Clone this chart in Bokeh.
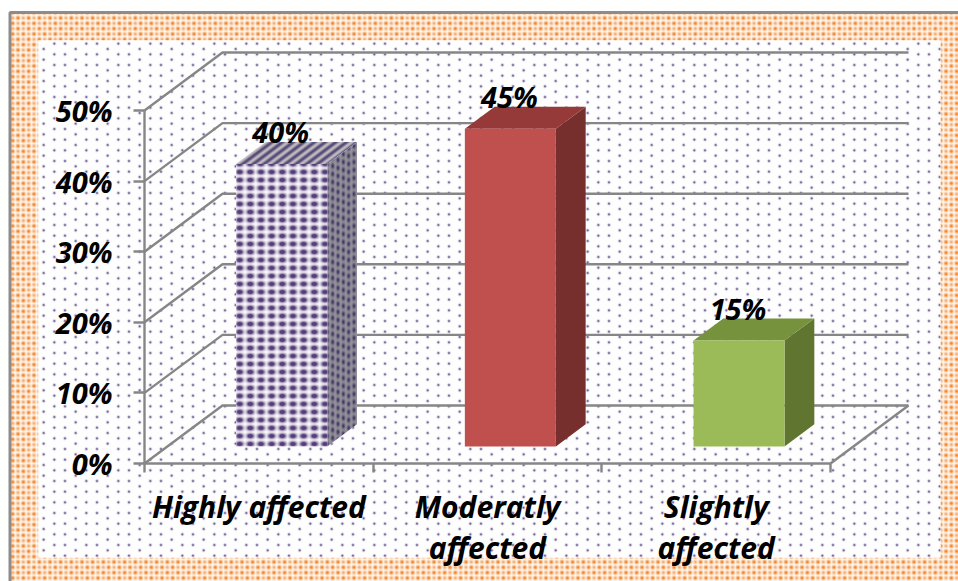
import base64, struct, zlib
import numpy as np
from bokeh.core.properties import value
from bokeh.embed import file_html
from bokeh.models import ColumnDataSource, FixedTicker, ImageURLTexture, LinearAxis, Range1d
from bokeh.plotting import figure
from bokeh.resources import INLINE

categories = ["Highly affected", "Moderatly\naffected", "Slightly\naffected"]
percent = [40, 45, 15]
data_labels = ["40%", "45%", "15%"]
y_ticks = [0, 10, 20, 30, 40, 50]
y_tick_labels = ["0%", "10%", "20%", "30%", "40%", "50%"]

FONT = "Open Sans"
GREY = "#868686"
W, H = 958, 581
X0, Y0, PX_X, PX_Y = 144, 463, 228.67, 7.06
DX, DY = 78 / PX_X, 58 / PX_Y
BAR_W = 0.398
D_FRONT, D_BACK = 0.293, 0.675


def proj(x, v, depth=0.0):
    return x + depth * DX, v + depth * DY


def sx(px):
    return (px - X0) / PX_X


def sy(py):
    return (Y0 - py) / PX_Y


def png_url(rgb, alpha=None):
    h, w = rgb.shape[:2]
    a = np.full((h, w), 255, dtype=np.uint8) if alpha is None else alpha
    arr = np.dstack([rgb.astype(np.uint8), a])
    raw = b"".join(b"\x00" + arr[i].tobytes() for i in range(h))

    def chunk(t, d):
        return struct.pack(">I", len(d)) + t + d + struct.pack(">I", zlib.crc32(t + d))

    blob = (b"\x89PNG\r\n\x1a\n" + chunk(b"IHDR", struct.pack(">IIBBBBB", w, h, 8, 6, 0, 0, 0))
            + chunk(b"IDAT", zlib.compress(raw)) + chunk(b"IEND", b""))
    return "data:image/png;base64," + base64.b64encode(blob).decode()


def blobs(size, pts, sig_x, sig_y):
    yy, xx = np.mgrid[0:size, 0:size] + 0.5
    out = np.zeros((size, size))
    for px, py, amp in pts:
        dx = (xx - px + size / 2) % size - size / 2
        dy = (yy - py + size / 2) % size - size / 2
        out = np.maximum(out, amp * np.exp(-(dx ** 2 / (2 * sig_x ** 2) + dy ** 2 / (2 * sig_y ** 2))))
    return out


def mix(t, bg, fg):
    bg, fg = np.array(bg, float), np.array(fg, float)
    return bg + t[..., None] * (fg - bg)


S = 32
step = S / 3
dots = [(i * step + 1, (j * step + (i % 2) * step / 2) % S + 1, 1) for i in range(3) for j in range(3)]
bg_tile = mix(blobs(S, dots, 0.9, 0.9), (255, 255, 255), (105, 88, 145))

o = S / 6
oranges = [(i * o + 2, j * o + 2, 1.0 if (i + j) % 2 == 0 else 0.65) for i in range(6) for j in range(6)]
orange_tile = mix(blobs(S, oranges, 1.5, 1.5), (255, 255, 255), (245, 130, 35))

diamonds = [(i * step + 5, j * 8 + 4, 1) for i in range(3) for j in range(4)]
front_tile = mix(np.clip(blobs(S, diamonds, 2.7, 1.9) * 1.3, 0, 1), (255, 255, 255), (85, 62, 122))

yy, xx = np.mgrid[0:S, 0:S] + 0.5
top_t = 0.5 + 0.5 * np.sin(2 * np.pi * (xx * 3 / S + yy * 4 / S))
top_tile = mix(top_t, (190, 190, 192), (88, 72, 118))

side_step = S / 6
side_pts = [(i * side_step + 2, j * 8 + 2 + i * 2, 1) for i in range(6) for j in range(4)]
side_tile = mix(blobs(S, side_pts, 1.2, 2.0), (150, 150, 155), (68, 52, 100))


def tex(rgb):
    return ImageURLTexture(url=png_url(rgb), repetition="repeat")


p = figure(width=W, height=H, output_backend="svg", toolbar_location=None,
           x_range=Range1d(-X0 / PX_X, (W - X0) / PX_X),
           y_range=Range1d((Y0 - H) / PX_Y, Y0 / PX_Y),
           min_border=0, min_border_left=0, min_border_right=0, min_border_top=0, min_border_bottom=0,
           outline_line_color=None, border_fill_color="white", background_fill_color="white")
p.grid.visible = False

# page frame and textured panels
p.patch([sx(9.5), sx(975), sx(975), sx(9.5)], [sy(12), sy(12), sy(600), sy(600)],
        fill_color="white", line_color="#8c8c8c", line_width=3,
        hatch_pattern="orange", hatch_extra={"orange": tex(orange_tile)}, hatch_alpha=1.0)
p.patch([sx(38), sx(940), sx(940), sx(38)], [sy(40), sy(40), sy(557), sy(557)],
        fill_color="white", line_color=None,
        hatch_pattern="dots", hatch_extra={"dots": tex(bg_tile)}, hatch_alpha=1.0)

# walls and floor grid
n = len(categories)
xs, ys = [], []
for v in y_ticks:
    a, b, c = proj(0, v), proj(0, v, 1), proj(n, v, 1)
    xs.append([a[0], b[0], c[0]])
    ys.append([a[1], b[1], c[1]])
a, b = proj(n, 0), proj(n, 0, 1)
xs.append([a[0], b[0]])
ys.append([a[1], b[1]])
p.multi_line(xs, ys, line_color=GREY, line_width=2.4)

# bars
face_styles = [
    dict(front=dict(fill_color="white", hatch_pattern="f", hatch_extra={"f": tex(front_tile)}, hatch_alpha=1.0),
         top=dict(fill_color="white", hatch_pattern="t", hatch_extra={"t": tex(top_tile)}, hatch_alpha=1.0),
         side=dict(fill_color="white", hatch_pattern="s", hatch_extra={"s": tex(side_tile)}, hatch_alpha=1.0)),
    dict(front=dict(fill_color="#c0504d"), top=dict(fill_color="#953a38"), side=dict(fill_color="#772f2e")),
    dict(front=dict(fill_color="#9bbb59"), top=dict(fill_color="#76923c"), side=dict(fill_color="#5f7530")),
]
label_x, label_y = [], []
for i, (v, st) in enumerate(zip(percent, face_styles)):
    cx = i + 0.5
    left, right = cx - BAR_W / 2, cx + BAR_W / 2
    lf = proj(left, 0, D_FRONT)
    rf = proj(right, 0, D_FRONT)
    ltf = proj(left, v, D_FRONT)
    rtf = proj(right, v, D_FRONT)
    rb = proj(right, 0, D_BACK)
    rtb = proj(right, v, D_BACK)
    ltb = proj(left, v, D_BACK)
    p.patch([rf[0], rb[0], rtb[0], rtf[0]], [rf[1], rb[1], rtb[1], rtf[1]], line_color=None, **st["side"])
    p.patch([ltf[0], rtf[0], rtb[0], ltb[0]], [ltf[1], rtf[1], rtb[1], ltb[1]], line_color=None, **st["top"])
    p.patch([lf[0], rf[0], rtf[0], ltf[0]], [lf[1], rf[1], rtf[1], ltf[1]], line_color=None, **st["front"])
    label_x.append(proj(cx, v, D_FRONT)[0] - 1 / PX_X)
    label_y.append(rtb[1] + 10 / PX_Y)

src = ColumnDataSource(dict(x=label_x, y=label_y, text=data_labels))
p.text("x", "y", text="text", source=src, text_font=value(FONT), text_font_style="bold italic",
       text_font_size=value("29px"), text_color="black", text_align="center", text_baseline="middle")

# axes
yaxis = p.yaxis[0]
yaxis.fixed_location = 0
yaxis.bounds = (y_ticks[0], y_ticks[-1])
yaxis.ticker = FixedTicker(ticks=y_ticks)
yaxis.major_label_overrides = dict(zip(y_ticks, y_tick_labels))
yaxis.axis_line_color = GREY
yaxis.axis_line_width = 2.4
yaxis.major_tick_line_color = GREY
yaxis.major_tick_line_width = 2.4
yaxis.major_tick_out = 11
yaxis.major_tick_in = 0
yaxis.minor_tick_line_color = None
yaxis.major_label_standoff = 21
yaxis.major_label_text_font = FONT
yaxis.major_label_text_font_style = "bold italic"
yaxis.major_label_text_font_size = "29px"
yaxis.major_label_text_color = "black"

xaxis = p.xaxis[0]
xaxis.fixed_location = 0
xaxis.bounds = (0, n)
xaxis.ticker = FixedTicker(ticks=list(range(n + 1)))
xaxis.major_label_text_font_size = "0px"
xaxis.major_label_text_color = None
xaxis.axis_line_color = GREY
xaxis.axis_line_width = 2.4
xaxis.major_tick_line_color = GREY
xaxis.major_tick_line_width = 2.4
xaxis.major_tick_out = 9
xaxis.major_tick_in = 0
xaxis.minor_tick_line_color = None

cat_ticks = [i + 0.5 for i in range(n)]
cat_axis = LinearAxis(fixed_location=0, ticker=FixedTicker(ticks=cat_ticks),
                      major_label_overrides=dict(zip(cat_ticks, categories)),
                      axis_line_color=None, major_tick_line_color=None, minor_tick_line_color=None,
                      major_tick_out=0, major_tick_in=0, major_label_standoff=22,
                      major_label_text_font=FONT, major_label_text_font_style="bold italic",
                      major_label_text_font_size="30px", major_label_text_color="black",
                      major_label_text_line_height=1.02)
p.add_layout(cat_axis, "below")

open("out.html", "w").write(file_html(p, INLINE))
